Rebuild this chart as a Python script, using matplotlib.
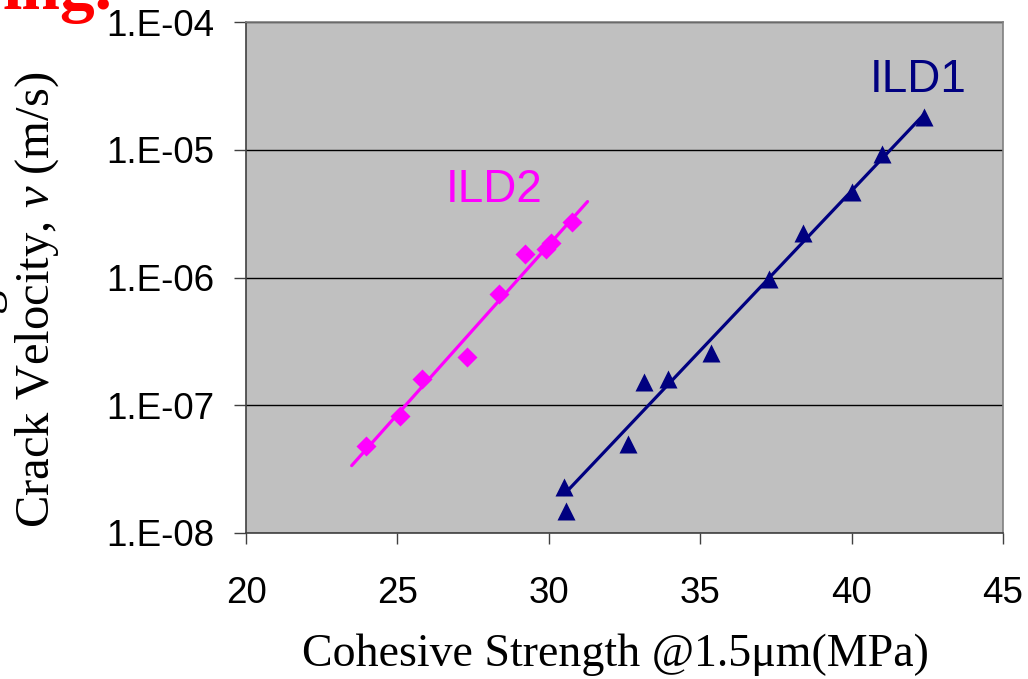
import matplotlib
matplotlib.use('Agg')
import matplotlib.pyplot as plt
from matplotlib.ticker import FixedLocator, FixedFormatter, NullLocator

plt.rcParams['mathtext.fontset'] = 'custom'
plt.rcParams['mathtext.it'] = 'Liberation Serif:italic'
plt.rcParams['mathtext.rm'] = 'Liberation Serif'

# data
ild2_x = [23.96, 25.09, 25.81, 27.29, 28.36, 29.20, 29.91, 30.08, 30.75]
ild2_v = [4.8e-8, 8.2e-8, 1.6e-7, 2.4e-7, 7.4e-7, 1.53e-6, 1.68e-6, 1.87e-6, 2.7e-6]
ild1_x = [30.50, 30.56, 32.62, 33.16, 33.95, 35.35, 37.26, 38.41, 40.00, 41.00, 42.39]
ild1_v = [2.3e-8, 1.5e-8, 5.0e-8, 1.53e-7, 1.6e-7, 2.55e-7, 9.7e-7, 2.25e-6, 4.67e-6, 9.2e-6, 1.8e-5]

# exponential trend lines (end points)
ild2_fit_x = [23.49, 31.28]
ild2_fit_v = [3.37e-8, 3.93e-6]
ild1_fit_x = [30.50, 42.37]
ild1_fit_v = [2.0e-8, 1.87e-5]

xticks = [20, 25, 30, 35, 40, 45]
yticks = [1e-8, 1e-7, 1e-6, 1e-5, 1e-4]
ytick_labels = ['1.E-08', '1.E-07', '1.E-06', '1.E-05', '1.E-04']

magenta = '#FF00FF'
navy = '#000080'

fig = plt.figure(figsize=(10.28, 6.79), dpi=100)
ax = fig.add_axes([246 / 1028, 1 - 533 / 679, 757 / 1028, 511 / 679])
ax.set_facecolor('#C0C0C0')

ax.plot(ild2_fit_x, ild2_fit_v, color=magenta, lw=2.3, solid_capstyle='round', zorder=3)
ax.plot(ild1_fit_x, ild1_fit_v, color=navy, lw=2.3, solid_capstyle='round', zorder=3)
ax.plot(ild2_x, ild2_v, 'D', color=magenta, ms=10.5, mec='none', zorder=4)
ax.plot(ild1_x, ild1_v, '^', color=navy, ms=13, mec='none', zorder=4)

ax.set_yscale('log')
ax.set_xlim(20, 45)
ax.set_ylim(1e-8, 1e-4)
ax.yaxis.set_major_locator(FixedLocator(yticks))
ax.yaxis.set_major_formatter(FixedFormatter(ytick_labels))
ax.yaxis.set_minor_locator(NullLocator())
ax.set_xticks(xticks)
ax.grid(axis='y', color='black', lw=1)
ax.set_axisbelow(True)

for s in ['top', 'right']:
    ax.spines[s].set_color('#808080')
for s in ['left', 'bottom']:
    ax.spines[s].set_color('#404040')
ax.spines[:].set_linewidth(1.2)

ax.tick_params(axis='y', direction='out', length=9, width=1, pad=14, color='#404040',
               labelsize=26.5, labelfontfamily='Liberation Sans')
ax.tick_params(axis='x', direction='out', length=8, width=1, pad=23, color='#404040',
               labelsize=26.5, labelfontfamily='Liberation Sans')

ax.text(0.3276, 0.671, 'ILD2', transform=ax.transAxes, color=magenta, fontsize=33,
        family='Liberation Sans', ha='center', va='center')
ax.text(0.8877, 0.8865, 'ILD1', transform=ax.transAxes, color=navy, fontsize=33,
        family='Liberation Sans', ha='center', va='center')

fig.text(615 / 1028, 1 - 655 / 679, 'Cohesive Strength @1.5\u03bcm(MPa)', fontsize=33,
         family='Liberation Serif', ha='center', va='center')
fig.text(37 / 1028, 1 - 300 / 679, r'Crack Velocity, $\mathit{v}$ (m/s)', fontsize=35,
         family='Liberation Serif', rotation=90, ha='center', va='center')

# cut-off text from the slide behind the chart
fig.text(112 / 1028, 1 - 9 / 679, 'ing.', fontsize=50, family='Liberation Serif',
         weight='bold', color='red', ha='right', va='baseline')
fig.text(-16 / 1028, 1 - 300 / 679, 'g', fontsize=35, family='Liberation Serif',
         rotation=90, ha='center', va='center')

fig.savefig('out.png', dpi=100)
